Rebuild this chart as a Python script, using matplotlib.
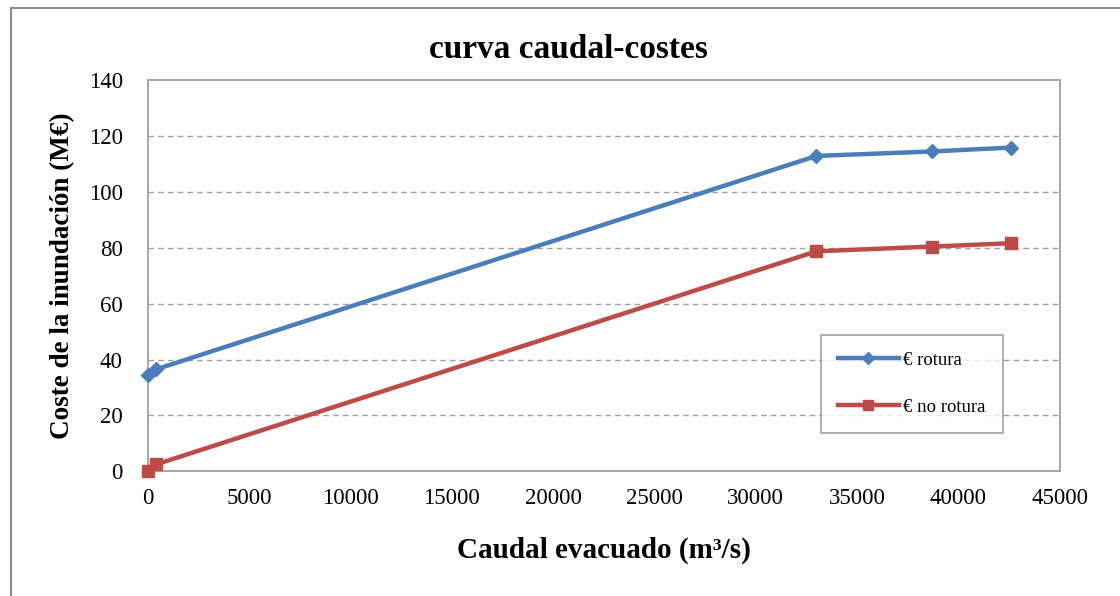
import matplotlib.pyplot as plt
from matplotlib.patches import Rectangle

# Datos
caudal = [0, 400, 33000, 38700, 42600]
coste_rotura = [34.5, 36.5, 112.8, 114.4, 115.8]
coste_no_rotura = [0.0, 2.5, 78.7, 80.4, 81.6]

x_ticks = [0, 5000, 10000, 15000, 20000, 25000, 30000, 35000, 40000, 45000]
y_ticks = [0, 20, 40, 60, 80, 100, 120, 140]

plt.rcParams['font.family'] = ['Liberation Serif', 'DejaVu Serif']

fig = plt.figure(figsize=(11.2, 5.96), dpi=100)
ax = fig.add_axes([0.132, 0.209, 0.814, 0.657])

# borde exterior del grafico (solo izquierda y arriba visibles)
fig.add_artist(Rectangle((11 / 1120, -0.05), 1.2, 1 - 8 / 596 + 0.05,
                         transform=fig.transFigure, fill=False,
                         edgecolor='#8c8c8c', linewidth=1.5))

ax.plot(caudal, coste_rotura, color='#4A7EBB', linewidth=3.2, marker='D',
        markersize=7.5, label='€ rotura', clip_on=False, zorder=3)
ax.plot(caudal, coste_no_rotura, color='#BE4B48', linewidth=3.2, marker='s',
        markersize=9, label='€ no rotura', clip_on=False, zorder=3)

ax.set_xlim(0, 45000)
ax.set_ylim(0, 140)
ax.set_xticks(x_ticks)
ax.set_yticks(y_ticks)
ax.tick_params(axis='x', length=0, labelsize=16.5, pad=12)
ax.tick_params(axis='y', length=0, labelsize=16.5, pad=18)

for y in y_ticks[1:-1]:
    ax.axhline(y, color='#a0a0a0', linestyle=(0, (4, 3)), linewidth=1, zorder=0)

for s in ax.spines.values():
    s.set_color('#a0a0a0')
    s.set_linewidth(1.3)

fig.text(568 / 1120, 1 - 49 / 596, 'curva caudal-costes', fontsize=24,
         fontweight='bold', ha='center', va='center')
ax.set_xlabel('Caudal evacuado (m³/s)', fontsize=21, fontweight='bold', labelpad=20)
ax.set_ylabel('Coste de la inundación (M€)', fontsize=19.5, fontweight='bold', labelpad=10)

leg = ax.legend(loc='lower left', bbox_to_anchor=(0.738, 0.099), fontsize=13.5,
                frameon=True, fancybox=False, edgecolor='#8c8c8c',
                borderaxespad=0, borderpad=0.9, labelspacing=1.6,
                handlelength=3.3, handletextpad=0.2, markerscale=0.8)
leg.get_frame().set_linewidth(1.2)

fig.savefig('out.png', dpi=100)
